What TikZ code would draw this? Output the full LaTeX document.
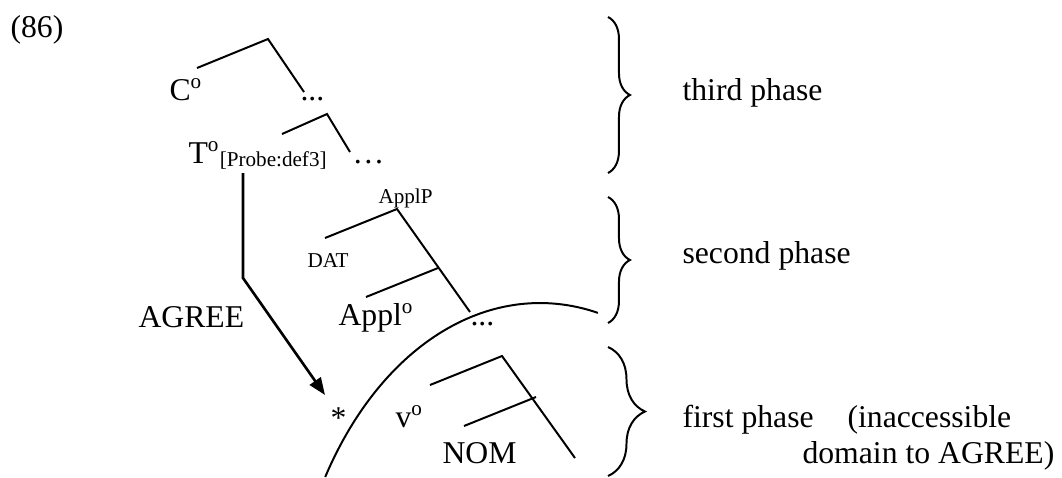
\documentclass[tikz,border=0pt]{standalone}
\usepackage{fontspec}
\setmainfont{Liberation Serif}
\usetikzlibrary{arrows.meta,decorations.pathreplacing}

\begin{document}
\begin{tikzpicture}[x=0.3785pt, y=-0.3785pt, every node/.style={font=\fontsize{12}{14}\selectfont, inner sep=0pt, anchor=base west}]
    % Styles
    \tikzstyle{feat} = [font=\fontsize{8}{9}\selectfont]
    \tikzstyle{branch} = [line width=0.75pt]
    \tikzstyle{agree} = [line width=1pt, -{Triangle[length=6.5pt, width=5pt]}]
    \tikzstyle{phase} = [line width=0.75pt, decorate, decoration={brace, amplitude=8.3pt}]

    \useasboundingbox (0,0) rectangle (1062,477);

    % Nodes
    \node (ex)     at (10,37)   {(86)};
    \node (comp)   at (169,100) {C\textsuperscript{o}};
    \node (cdots)  at (300,100) {...};
    \node (tense)  at (188,163) {T\textsuperscript{o}\raisebox{-1.5pt}{\fontsize{8}{9}\selectfont[Probe:def3]}};
    \node (tdots)  at (352,163) {\textellipsis};
    \node (applp)  [feat] at (378,203) {ApplP};
    \node (dat)    [feat] at (307,267) {DAT};
    \node (agreel) at (138,327) {AGREE};
    \node (appl)   at (338,325) {Appl\textsuperscript{o}};
    \node (adots)  at (470,325) {...};
    \node (star)   at (330,428) {*};
    \node (littlev) at (395,427) {v\textsuperscript{o}};
    \node (nom)    at (442,463) {NOM};

    % Tree points
    \coordinate (cleft)  at (197,68);
    \coordinate (capex)  at (268,39);
    \coordinate (cright) at (304,92);
    \coordinate (tleft)  at (282,134);
    \coordinate (tapex)  at (327,114);
    \coordinate (tright) at (350,152);
    \coordinate (aapex)  at (397,209);
    \coordinate (aleft)  at (325,238);
    \coordinate (aright) at (470,312);
    \coordinate (amid)   at (438,268);
    \coordinate (amidl)  at (366,297);
    \coordinate (vapex)  at (502,356);
    \coordinate (vleft)  at (430,385);
    \coordinate (vright) at (575,458);
    \coordinate (vmid)   at (536,397);
    \coordinate (vmidl)  at (464,426);

    % Branches
    \draw [branch] (cleft) -- (capex) -- (cright);
    \draw [branch] (tleft) -- (tapex) -- (tright);
    \draw [branch] (aleft) -- (aapex) -- (aright);
    \draw [branch] (amidl) -- (amid);
    \draw [branch] (vleft) -- (vapex) -- (vright);
    \draw [branch] (vmidl) -- (vmid);

    % Agree path
    \coordinate (probe) at (243,173);
    \coordinate (bend)  at (243,278);
    \coordinate (goal)  at (325,395);
    \draw [agree] (probe) -- (bend) -- (goal);

    % Phase boundary
    \coordinate (arcfoot) at (325.2,477);
    \draw [branch] (arcfoot) arc[start angle=-148.44, end angle=-76.7, x radius=252, y radius=365];

    % Braces
    \coordinate (ph3top) at (608,17);
    \coordinate (ph3bot) at (608,173);
    \coordinate (ph2top) at (608,197);
    \coordinate (ph2bot) at (608,323);
    \coordinate (ph1top) at (608,347);
    \coordinate (ph1bot) at (608,476);
    \draw [phase] (ph3top) -- (ph3bot);
    \draw [phase] (ph2top) -- (ph2bot);
    \draw [phase, decoration={amplitude=14pt}] (ph1top) -- (ph1bot);

    % Captions
    \node (third)  at (682,100) {third phase};
    \node (second) at (682,263) {second phase};
    \node (first)  at (682,427) {first phase};
    \node (inacc)  at (847,427) {(inaccessible};
    \node (domain) at (802,463) {domain to AGREE)};
\end{tikzpicture}
\end{document}
